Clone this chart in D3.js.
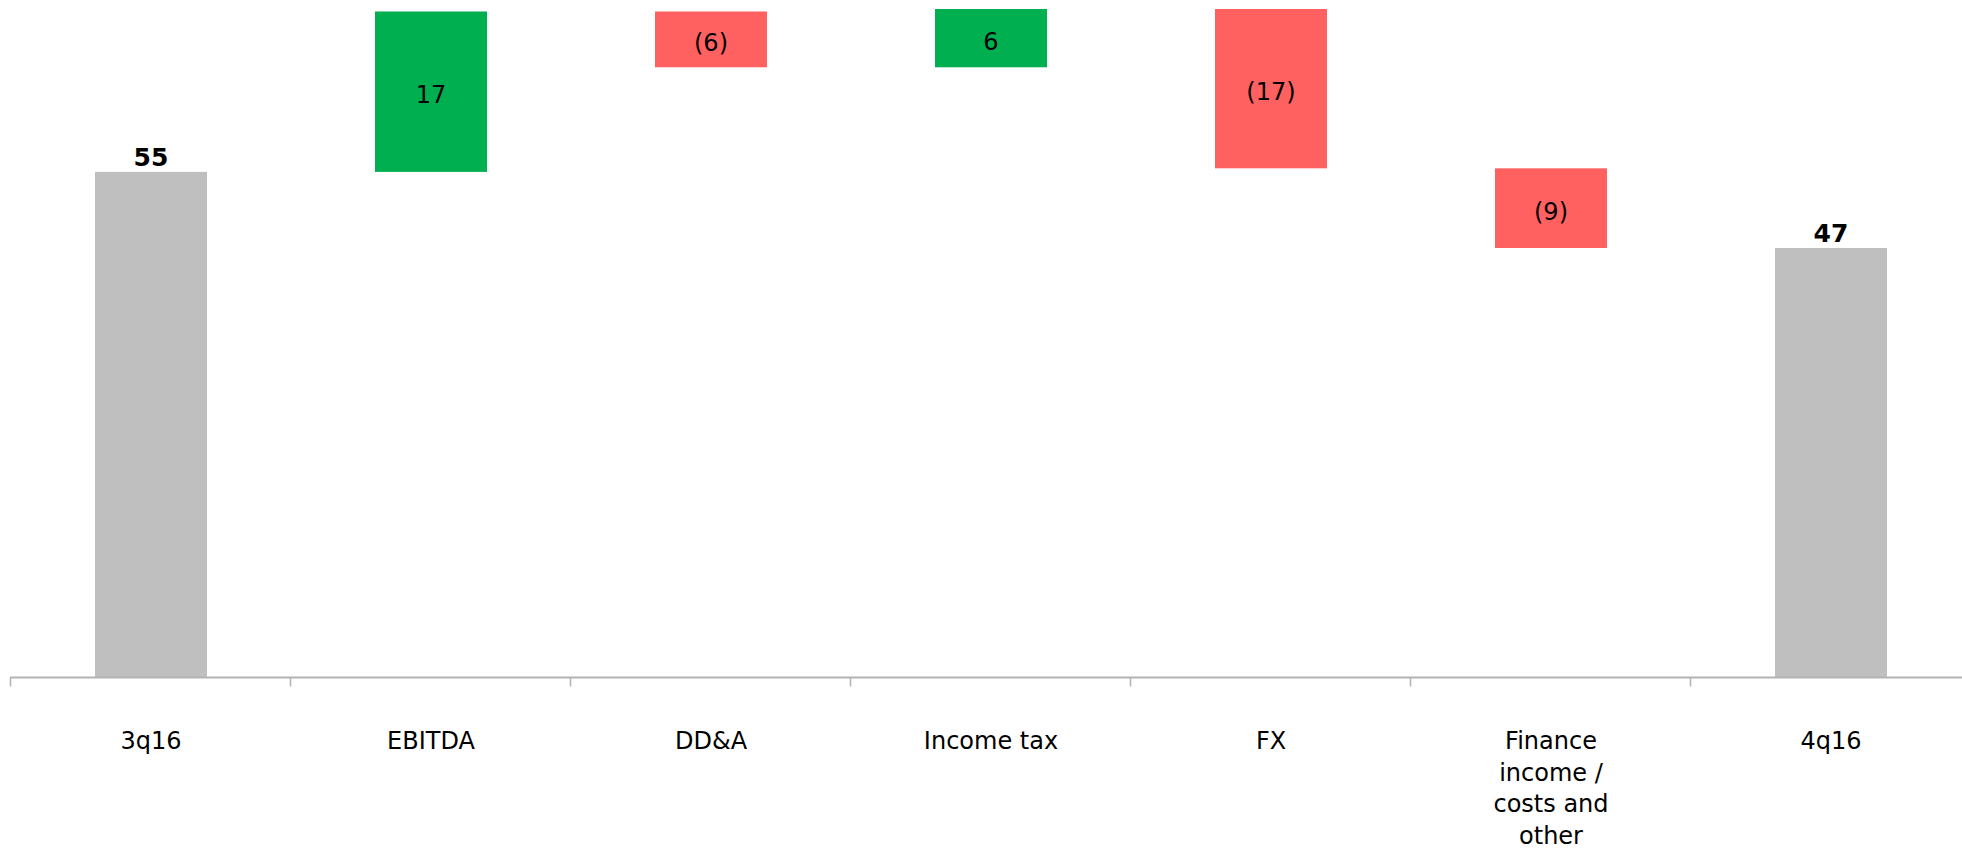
<!DOCTYPE html>
<html>
<head>
<meta charset="utf-8">
<script src="https://cdn.jsdelivr.net/npm/d3@7"></script>
<style>
  html, body { margin: 0; padding: 0; background: #ffffff; }
  svg { display: block; }
</style>
</head>
<body>
<script>
// ---- data ----
const categories = ["3q16", "EBITDA", "DD&A", "Income tax", "FX", "Finance income / costs and other", "4q16"];
const values = [55, 17.45, -6.07, 6.34, -17.33, -8.67, 46.72];
const kinds = ["total", "delta", "delta", "delta", "delta", "delta", "total"];
const valueLabels = ["55", "17", "(6)", "6", "(17)", "(9)", "47"];

// ---- layout ----
const W = 1962, H = 851;
const axisY = 677.5;
const fontFamily = "'DejaVu Sans', Verdana, sans-serif";

const svg = d3.select("body").append("svg").attr("width", W).attr("height", H);

const x = d3.scaleBand().domain(categories).range([11, 1971]).paddingInner(0.6).paddingOuter(0.3);
const y = d3.scaleLinear().domain([0, 73.7]).range([axisY, 0]);

// waterfall computation
let running = 0;
const bars = categories.map((c, i) => {
  let lo, hi;
  if (kinds[i] === "total") {
    lo = 0; hi = values[i]; running = values[i];
  } else {
    const start = running, end = running + values[i];
    lo = Math.min(start, end); hi = Math.max(start, end); running = end;
  }
  const color = kinds[i] === "total" ? "#bfbfbf" : (values[i] >= 0 ? "#00b050" : "#ff6161");
  return { c, i, lo, hi, color, kind: kinds[i], label: valueLabels[i] };
});

// bars
svg.append("g").selectAll("rect").data(bars).join("rect")
  .attr("x", d => x(d.c))
  .attr("width", x.bandwidth())
  .attr("y", d => y(d.hi))
  .attr("height", d => y(d.lo) - y(d.hi))
  .attr("fill", d => d.color);

// axis line + ticks at category boundaries
const gap = (x.step() - x.bandwidth()) / 2;
const axisG = svg.append("g");
axisG.append("line")
  .attr("x1", x(categories[0]) - gap - 1).attr("x2", W)
  .attr("y1", axisY).attr("y2", axisY)
  .attr("stroke", "#b3b3b3").attr("stroke-width", 2);
axisG.selectAll("line.tick").data(categories).join("line")
  .attr("class", "tick")
  .attr("x1", d => Math.round(x(d) - gap) - 0.5).attr("x2", d => Math.round(x(d) - gap) - 0.5)
  .attr("y1", axisY).attr("y2", axisY + 9)
  .attr("stroke", "#b3b3b3").attr("stroke-width", 1.5);

// value labels
svg.append("g").selectAll("text").data(bars).join("text")
  .attr("x", d => x(d.c) + x.bandwidth() / 2)
  .attr("y", d => d.kind === "total" ? y(d.hi) - 6 : (y(d.hi) + y(d.lo)) / 2)
  .attr("dy", d => d.kind === "total" ? 0 : "0.48em")
  .attr("text-anchor", "middle")
  .attr("font-family", fontFamily)
  .attr("font-size", d => d.kind === "total" ? 25 : 24)
  .attr("font-weight", d => d.kind === "total" ? "bold" : "normal")
  .attr("fill", "#000")
  .text(d => d.label);

// category labels with wrapping
const catG = svg.append("g");
const maxW = 150;
categories.forEach(c => {
  const cx = x(c) + x.bandwidth() / 2;
  const t = catG.append("text")
    .attr("x", cx)
    .attr("y", 749)
    .attr("text-anchor", "middle")
    .attr("font-family", fontFamily)
    .attr("font-size", 24)
    .attr("fill", "#000");
  const words = c.split(" ");
  let line = [];
  let tspan = t.append("tspan").attr("x", cx).attr("dy", 0);
  words.forEach(w => {
    line.push(w);
    tspan.text(line.join(" "));
    if (tspan.node().getComputedTextLength() > maxW && line.length > 1) {
      line.pop();
      tspan.text(line.join(" "));
      line = [w];
      tspan = t.append("tspan").attr("x", cx).attr("dy", 31.5).text(w);
    }
  });
});
</script>
</body>
</html>
